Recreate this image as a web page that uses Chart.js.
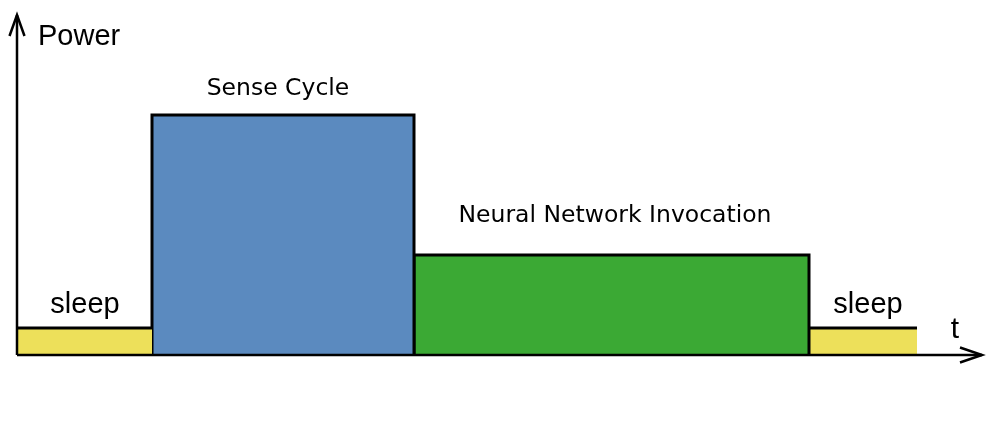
<!DOCTYPE html>
<html>
<head>
<meta charset="utf-8">
<script src="https://cdn.jsdelivr.net/npm/chart.js@4/dist/chart.umd.min.js"></script>
<style>
html,body{margin:0;padding:0;background:#fff;}
#wrap{width:996px;height:428px;position:relative;}
</style>
</head>
<body>
<div id="wrap"><canvas id="c"></canvas></div>
<script>
// ---- data (time and power in arbitrary units) ----
const phases = ["sleep", "Sense Cycle", "Neural Network Invocation", "sleep"];
const phaseStart = [0, 13.5, 39.7, 79.2];
const phaseEnd   = [13.5, 39.7, 79.2, 90];
const phasePower = [2.7, 24, 10, 2.7];
const phaseColors = ["#EDE05A", "#5B8ABF", "#3BA934", "#EDE05A"];
const axisMaxTime = 96.5;
const axisMaxPower = 34;
const axisLabels = ["Power", "t"];

// ---- build datasets ----
const datasets = [];
phases.forEach((p, i) => {
  const s = phaseStart[i], e = phaseEnd[i], h = phasePower[i];
  let pts;
  if (p === "sleep") {
    pts = [{x: s, y: h}, {x: e, y: h}];
  } else {
    pts = [{x: s, y: 0}, {x: s, y: h}, {x: e, y: h}, {x: e, y: 0}];
  }
  datasets.push({
    label: p, data: pts, borderColor: "#000", borderWidth: 3,
    backgroundColor: phaseColors[i], fill: "origin",
    pointRadius: 0, tension: 0, borderJoinStyle: "miter", order: 5
  });
});
const axisStyle = {borderColor: "#000", borderWidth: 2.5, pointRadius: 0, fill: false, tension: 0, order: 1, borderJoinStyle: "miter"};
// y axis with arrow
datasets.push(Object.assign({label: "yaxis", data: [{x: 0, y: 0}, {x: 0, y: axisMaxPower}]}, axisStyle));
datasets.push(Object.assign({label: "yarrow", data: [{x: -0.75, y: axisMaxPower - 2.1}, {x: 0, y: axisMaxPower}, {x: 0.75, y: axisMaxPower - 2.1}]}, axisStyle));
// x axis with arrow
datasets.push(Object.assign({label: "xaxis", data: [{x: 0, y: 0}, {x: axisMaxTime, y: 0}]}, axisStyle));
datasets.push(Object.assign({label: "xarrow", data: [{x: axisMaxTime - 2.2, y: 0.75}, {x: axisMaxTime, y: 0}, {x: axisMaxTime - 2.2, y: -0.75}]}, axisStyle));

// text annotations (anchored in data units)
const notes = [
  {text: phases[1], x: 26.1, y: 26.0, font: "23.5px 'DejaVu Sans'", align: "center"},
  {text: phases[2], x: 59.8, y: 13.3, font: "23.5px 'DejaVu Sans'", align: "center"},
  {text: phases[0], x: 6.8, y: 4.2, font: "29px 'Liberation Sans'", align: "center"},
  {text: phases[3], x: 85.1, y: 4.2, font: "29px 'Liberation Sans'", align: "center"},
  {text: axisLabels[0], x: 2.1, y: 31.0, font: "29px 'Liberation Sans'", align: "left"},
  {text: axisLabels[1], x: 93.8, y: 1.7, font: "30px 'Liberation Sans'", align: "center"}
];

const textPlugin = {
  id: "notes",
  afterDatasetsDraw(chart) {
    const ctx = chart.ctx, xs = chart.scales.x, ys = chart.scales.y;
    ctx.save();
    ctx.fillStyle = "#000";
    ctx.textBaseline = "alphabetic";
    notes.forEach(n => {
      ctx.font = n.font;
      ctx.textAlign = n.align;
      ctx.fillText(n.text, xs.getPixelForValue(n.x), ys.getPixelForValue(n.y));
    });
    ctx.restore();
  }
};

new Chart(document.getElementById("c"), {
  type: "line",
  data: {datasets},
  options: {
    responsive: true, maintainAspectRatio: false, animation: false,
    devicePixelRatio: 1,
    layout: {padding: 0},
    plugins: {legend: {display: false}, tooltip: {enabled: false}},
    scales: {
      x: {type: "linear", min: -1.7, max: 97.9, display: false},
      y: {type: "linear", min: -7.3, max: 35.5, display: false}
    }
  },
  plugins: [textPlugin]
});
</script>
</body>
</html>
